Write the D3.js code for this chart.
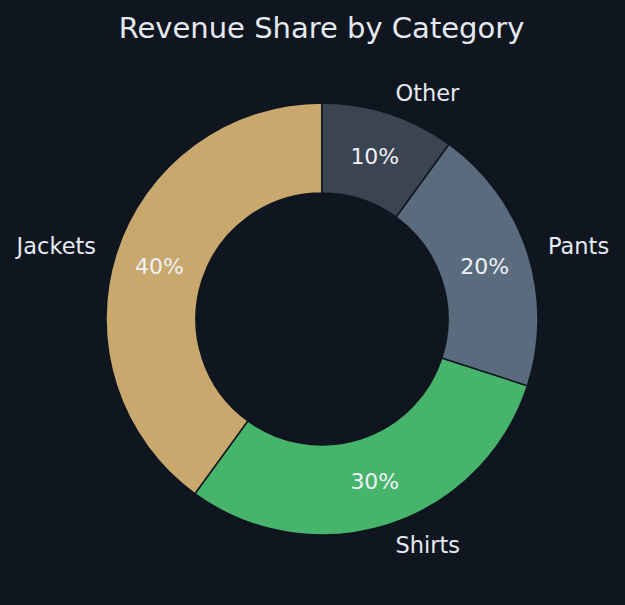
<!DOCTYPE html>
<html>
<head>
<meta charset="utf-8">
<script src="https://cdn.jsdelivr.net/npm/d3@7"></script>
<style>
  html, body { margin: 0; padding: 0; background: #0f1620; }
  svg { display: block; font-family: "DejaVu Sans", sans-serif; }
</style>
</head>
<body>
<div id="chart"></div>
<script>
const categories = ['Jackets', 'Shirts', 'Pants', 'Other'];
const shares = [40, 30, 20, 10];
const colors = ['#c8a86c', '#46b46a', '#5b6b7e', '#3a4452'];

const width = 625, height = 605;
const cx = 322, cy = 319;
const outerR = 216, innerR = 126;

const svg = d3.select('#chart').append('svg')
    .attr('width', width)
    .attr('height', height);

svg.append('rect')
    .attr('width', width)
    .attr('height', height)
    .attr('fill', '#0f1620');

// Title
svg.append('text')
    .attr('x', 321.5)
    .attr('y', 28)
    .attr('text-anchor', 'middle')
    .attr('dominant-baseline', 'central')
    .attr('fill', '#e6eaf0')
    .style('font-size', '29px')
    .text('Revenue Share by Category');

const data = categories.map((c, i) => ({ name: c, value: shares[i], color: colors[i] }));

// counter-clockwise from the top, like matplotlib startangle=90
const pie = d3.pie()
    .sort(null)
    .value(d => d.value)
    .startAngle(0)
    .endAngle(-2 * Math.PI);

const arcs = pie(data);

const arc = d3.arc()
    .innerRadius(innerR)
    .outerRadius(outerR);

const g = svg.append('g')
    .attr('transform', `translate(${cx}, ${cy})`);

g.selectAll('.slice')
    .data(arcs)
    .enter()
    .append('path')
    .attr('class', 'slice')
    .attr('d', arc)
    .attr('fill', d => d.data.color)
    .attr('stroke', '#0f1620')
    .attr('stroke-width', 1.5);

const total = d3.sum(shares);
const midAngle = d => (d.startAngle + d.endAngle) / 2;
const pctR = (innerR + outerR) / 2;
const labelR = outerR * 1.1;

g.selectAll('.pct')
    .data(arcs)
    .enter()
    .append('text')
    .attr('class', 'pct')
    .attr('x', d => pctR * Math.sin(midAngle(d)))
    .attr('y', d => -pctR * Math.cos(midAngle(d)))
    .attr('text-anchor', 'middle')
    .attr('dominant-baseline', 'central')
    .attr('fill', '#eef1f5')
    .style('font-size', '22px')
    .text(d => Math.round(d.data.value / total * 100) + '%');

g.selectAll('.label')
    .data(arcs)
    .enter()
    .append('text')
    .attr('class', 'label')
    .attr('x', d => labelR * Math.sin(midAngle(d)))
    .attr('y', d => -labelR * Math.cos(midAngle(d)))
    .attr('text-anchor', d => Math.sin(midAngle(d)) < 0 ? 'end' : 'start')
    .attr('dominant-baseline', 'central')
    .attr('fill', '#e6eaf0')
    .style('font-size', '22.5px')
    .text(d => d.data.name);
</script>
</body>
</html>
